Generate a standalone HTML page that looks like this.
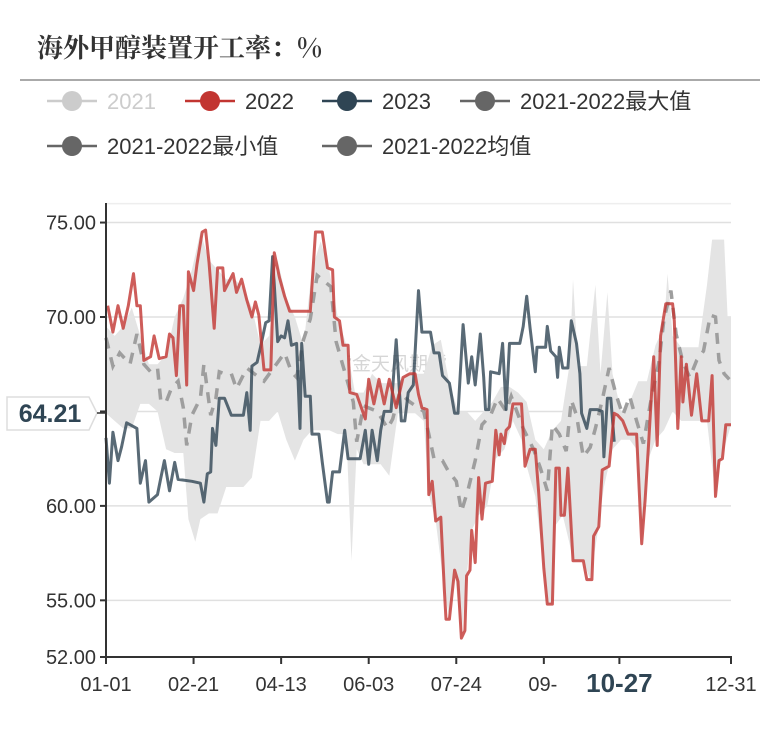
<!DOCTYPE html>
<html><head><meta charset="utf-8">
<style>
html,body{margin:0;padding:0;background:#fff;}
body{width:780px;height:740px;overflow:hidden;position:relative;font-family:"Liberation Sans","Noto Sans CJK SC",sans-serif;}
svg{position:absolute;left:0;top:0;}
</style></head>
<body>
<svg id="chart" width="780" height="740">
  <text x="37" y="57" font-family="'Noto Serif CJK SC','Liberation Serif',serif" font-weight="bold" font-size="26" fill="#333">海外甲醇装置开工率：%</text>
  <line x1="20" y1="80" x2="760" y2="80" stroke="#aaa" stroke-width="2"/>
  <g id="legend"></g>
  <g id="grid"></g>
  <text x="390" y="370" font-size="19" fill="#bbb" fill-opacity="0.6" text-anchor="middle" font-family="'Noto Sans CJK SC',sans-serif">紫金天风期货</text>
  <g id="series"></g>
  <g id="axes"></g>
</svg>
<script>
const yTicks=[75,70,65,60,55,52];
const yTickLabels=["75.00","70.00","","60.00","55.00","52.00"];
const xTickDays=[0,51,102,153,204,255,299,364];
const xTickLabels=["01-01","02-21","04-13","06-03","07-24","09-","10-27","12-31"];
const days2022=[1,4,7,10,13,16,18,20,22,26,28,31,35,37,39,41,43,45,47,48,51,53,56,58,60,63,65,68,69,74,76,79,82,85,87,89,92,96,98,101,104,107,119,122,126,129,132,133,136,138,141,142,146,151,153,156,159,162,165,169,173,177,180,182,184,187,188,190,192,195,197,198,200,203,205,207,209,210,212,213,215,217,219,221,225,227,229,230,232,233,235,237,242,244,247,250,252,255,257,260,262,264,265,267,269,272,278,280,283,284,287,289,293,296,298,301,304,309,312,314,316,319,321,323,326,330,331,333,335,336,338,341,344,347,351,353,355,357,359,361,364];
const vals2022=[70.6,69.2,70.6,69.4,70.6,72.3,70.6,70.6,67.7,67.9,69.0,67.8,67.9,69.1,68.9,66.9,70.6,70.6,66.4,72.4,71.4,72.8,74.5,74.6,72.9,69.4,72.6,72.6,71.4,72.3,71.3,72.0,70.9,70.0,70.8,70.1,67.2,67.2,73.4,72.1,71.1,70.3,70.3,74.5,74.5,72.6,72.5,70.0,69.8,68.5,68.5,66.0,65.9,64.6,66.7,65.4,66.7,65.4,66.7,65.2,66.8,67.0,67.0,65.9,65.2,65.1,60.6,61.3,59.2,59.4,55.6,54.0,54.0,56.6,56.0,53.0,53.4,56.3,56.6,58.7,57.0,61.5,59.3,61.2,61.3,64.0,62.7,63.8,63.3,64.0,64.2,65.4,65.4,62.1,63.0,63.0,60.7,56.7,54.8,54.8,62.0,62.0,59.5,59.5,62.0,57.1,57.1,56.1,56.1,58.4,58.9,61.9,62.1,64.9,64.8,64.5,63.8,63.8,58.0,60.3,63.3,67.9,63.2,69.0,70.7,70.7,69.8,64.1,67.9,65.5,67.5,64.8,67.0,64.5,64.5,66.9,60.5,62.4,62.5,64.3,64.3];
const days2023=[0,2,4,7,9,12,18,20,23,25,30,32,34,37,40,42,50,55,57,59,61,62,64,66,69,73,80,82,84,85,88,90,93,95,97,100,102,104,106,108,111,113,114,116,119,120,124,126,129,130,132,136,139,141,148,151,153,155,158,160,162,166,169,172,174,176,179,182,184,189,191,194,196,200,203,205,208,211,213,215,218,220,221,223,224,229,231,233,235,241,243,245,247,250,251,256,257,259,262,263,264,266,269,271,274,276,277,280,282,286,289,290,292,294,296];
const vals2023=[63.6,61.2,63.9,62.4,63.1,64.4,64.1,61.2,62.4,60.2,60.6,61.5,62.4,60.8,62.3,61.4,61.3,61.2,60.2,61.7,61.8,64.1,63.2,65.7,65.7,64.8,64.8,66.0,64.0,67.4,67.6,68.4,69.7,69.8,73.2,68.7,69.0,68.9,69.8,68.5,68.6,64.1,68.6,65.8,65.8,63.8,63.8,62.3,60.2,60.2,61.8,61.8,64.0,62.5,62.5,64.0,62.2,64.0,62.4,64.0,65.0,65.0,68.8,64.5,64.5,66.0,66.4,71.4,69.2,69.2,68.1,68.1,66.9,66.5,64.9,64.9,69.6,66.5,67.9,66.4,69.1,66.8,65.1,65.1,67.1,67.0,68.6,65.1,68.6,68.6,69.5,71.1,69.4,67.1,68.4,68.4,69.5,68.2,67.9,66.8,68.4,67.3,67.3,69.8,68.6,67.0,64.9,64.1,65.1,65.1,65.0,62.6,65.7,65.7,63.4];
const bandMaxDays=[0,5,10,15,20,25,30,35,40,45,50,55,60,65,70,75,80,85,90,95,100,105,110,115,120,125,130,135,140,145,150,155,160,165,170,175,180,185,190,195,200,205,210,215,220,225,230,235,240,245,250,255,260,265,270,272,275,280,285,288,292,295,300,305,310,315,320,325,327,330,335,340,345,350,353,360,362,364];
const bandMaxVals=[69.5,69.0,69.5,70.5,69.0,67.5,67.5,68.0,70.0,71.0,72.5,74.5,73.0,72.5,72.0,72.0,71.5,70.5,68.5,69.0,73.0,71.0,70.0,68.5,72.5,74.0,72.5,70.0,68.5,66.0,66.0,67.0,66.5,66.5,66.5,67.0,67.0,67.0,68.5,68.8,66.5,65.0,65.0,64.5,65.0,65.5,66.3,66.3,66.0,65.5,63.5,63.0,64.0,64.5,67.5,72.0,67.4,67.4,71.7,67.0,71.3,67.0,65.0,65.5,66.6,66.6,68.5,69.5,72.3,69.0,68.4,68.4,68.4,71.7,74.1,74.1,70.0,70.0];
const bandMinDays=[0,5,10,15,20,25,30,35,40,45,48,52,55,60,65,70,75,80,85,90,95,100,105,110,115,120,125,130,135,140,143,146,150,155,160,165,170,175,180,185,188,192,197,200,203,207,210,213,217,222,227,232,237,242,245,250,255,257,260,262,266,270,272,278,282,286,290,295,300,305,309,312,316,320,325,330,335,340,345,350,355,358,364];
const bandMinVals=[64.9,64.5,64.1,64.1,65.4,65.4,65.0,63.0,62.8,62.8,59.3,58.1,59.3,59.6,59.6,61.0,61.0,61.0,61.5,64.5,64.5,65.0,63.5,62.4,63.5,64.0,64.0,64.0,63.8,63.8,57.1,63.0,62.2,62.2,62.2,61.6,64.9,64.9,64.9,64.5,60.6,59.2,55.6,54.0,56.6,53.0,56.3,58.7,59.5,60.0,62.5,63.0,64.5,63.5,62.1,60.5,56.7,54.8,54.8,59.0,59.5,58.0,57.1,57.1,56.1,58.4,61.0,63.0,63.5,63.5,63.0,58.0,62.5,63.5,64.0,65.0,64.5,64.5,64.5,64.5,60.5,62.4,64.3];
const avgDays=[0,4,8,14,18,22,26,30,32,35,38,42,45,47,50,55,57,61,64,66,69,73,76,82,92,96,104,108,111,115,119,123,131,134,144,146,150,158,164,167,171,177,185,188,191,196,199,204,207,211,215,219,224,228,233,236,243,249,253,257,260,264,268,271,274,278,282,285,289,293,297,301,305,309,313,317,322,325,329,332,336,340,344,348,352,355,357,360,363];
const avgVals=[68.9,67.4,68.1,67.5,69.1,67.5,67.1,67.3,65.5,65.5,66.2,66.6,65.2,63.2,64.8,65.7,67.5,64.8,65.7,67.1,67.0,67.0,66.2,67.3,66.6,67.1,68.1,67.1,66.8,68.8,69.9,72.2,71.6,68.7,65.5,63.4,65.3,65.0,64.1,64.6,66.0,65.5,65.0,63.8,62.5,62.4,61.9,61.3,59.7,60.9,62.4,64.3,64.8,65.7,65.0,65.8,64.1,63.0,62.0,60.8,64.3,63.8,62.9,65.6,64.8,62.6,63.1,64.1,65.6,67.3,65.9,64.8,65.8,64.5,63.3,65.4,67.6,69.9,71.4,69.1,67.6,66.8,67.7,68.2,70.1,70.0,67.7,67.0,66.7];

const NS="http://www.w3.org/2000/svg";
const X0=106,X1=731,Y_TOP=203,Y_BOT=657,VMIN=52,VMAX=76;
function xs(d){return X0+d*(X1-X0)/364;}
function ys(v){return 317+(70-v)*(Y_BOT-317)/(70-VMIN);}
function mk(tag,attrs,parent){const e=document.createElementNS(NS,tag);for(const k in attrs)e.setAttribute(k,attrs[k]);parent.appendChild(e);return e;}
function pts(ds,vs){return ds.map((d,i)=>xs(d).toFixed(1)+","+ys(vs[i]).toFixed(1));}

const grid=document.getElementById('grid');
const gTop=mk('line',{x1:X0,x2:X1,y1:ys(VMAX),y2:ys(VMAX),stroke:'#eee','stroke-width':1.5},grid);


yTicks.forEach((v,i)=>{
  if(v!==VMIN){
    const l=mk('line',{x1:X0,x2:X1,y1:ys(v),y2:ys(v),stroke:'#e0e0e0','stroke-width':1.5},grid);
    
    
  }
});

const series=document.getElementById('series');
const up=pts(bandMaxDays,bandMaxVals), lo=pts(bandMinDays,bandMinVals).reverse();
const band=mk('polygon',{points:up.concat(lo).join(' '),fill:'#e4e4e4'},series);


const avg=mk('polyline',{points:pts(avgDays,avgVals).join(' '),fill:'none',stroke:'#9e9e9e','stroke-width':3.5,'stroke-dasharray':'11,9'},series);


const l23=mk('polyline',{points:pts(days2023,vals2023).join(' '),fill:'none',stroke:'#2f4554','stroke-opacity':0.8,'stroke-width':3,'stroke-linejoin':'round'},series);


const l22=mk('polyline',{points:pts(days2022,vals2022).join(' '),fill:'none',stroke:'#c23531','stroke-opacity':0.8,'stroke-width':3,'stroke-linejoin':'round'},series);



const axes=document.getElementById('axes');
const ya=mk('line',{x1:X0,x2:X0,y1:Y_TOP,y2:Y_BOT+1,stroke:'#333','stroke-width':2},axes);


const xa=mk('line',{x1:X0-1,x2:X1+1,y1:Y_BOT,y2:Y_BOT,stroke:'#333','stroke-width':2},axes);


yTicks.forEach((v,i)=>{
  const t=mk('line',{x1:X0-6,x2:X0,y1:ys(v),y2:ys(v),stroke:'#333','stroke-width':2},axes);
  
  
  if(yTickLabels[i]){
    const tx=mk('text',{x:X0-10,y:ys(v)+7,'text-anchor':'end','font-size':20,fill:'#333'},axes);
    tx.textContent=yTickLabels[i];
    
    
  }
});
xTickDays.forEach((d,i)=>{
  const t=mk('line',{x1:xs(d),x2:xs(d),y1:Y_BOT,y2:Y_BOT+7,stroke:'#333','stroke-width':2},axes);
  
  
  const bold=xTickLabels[i]==='10-27';
  const tx=mk('text',{x:xs(d)+(xTickLabels[i]==='09-'?-1:0),y:bold?692:691,'text-anchor':'middle','font-size':bold?26:20,'font-weight':bold?'bold':'normal',fill:bold?'#2f4554':'#333'},axes);
  tx.textContent=xTickLabels[i];
  
  
});
// y axis pointer label
const pl=mk('path',{d:'M7,397 H89 L97,413 L89,430 H7 Z',fill:'#fff',stroke:'#ddd','stroke-width':1.5},axes);


const plt=mk('text',{x:50,y:422,'text-anchor':'middle','font-size':25,'font-weight':'bold',fill:'#2f4554'},axes);
plt.textContent='64.21';


const pln=mk('line',{x1:97,x2:X0,y1:413,y2:413,stroke:'#333','stroke-width':1.5},axes);



// legend
const legend=document.getElementById('legend');
const legItems=[["2021","#ccc","#ccc",47,101],["2022","#c23531","#333",185,101],["2023","#2f4554","#333",322,101],["2021-2022最大值","#666","#333",460,101],["2021-2022最小值","#666","#333",47,146],["2021-2022均值","#666","#333",322,146]];
legItems.forEach(it=>{
  const g=mk('g',{},legend);
  
  
  mk('line',{x1:it[3],x2:it[3]+50,y1:it[4],y2:it[4],stroke:it[1],'stroke-width':2.5},g);
  mk('circle',{cx:it[3]+25,cy:it[4],r:10,fill:it[1]},g);
  const t=mk('text',{x:it[3]+60,y:it[4]+8,'font-size':22,fill:it[2]},g);
  t.textContent=it[0];
});
</script>
</body></html>
